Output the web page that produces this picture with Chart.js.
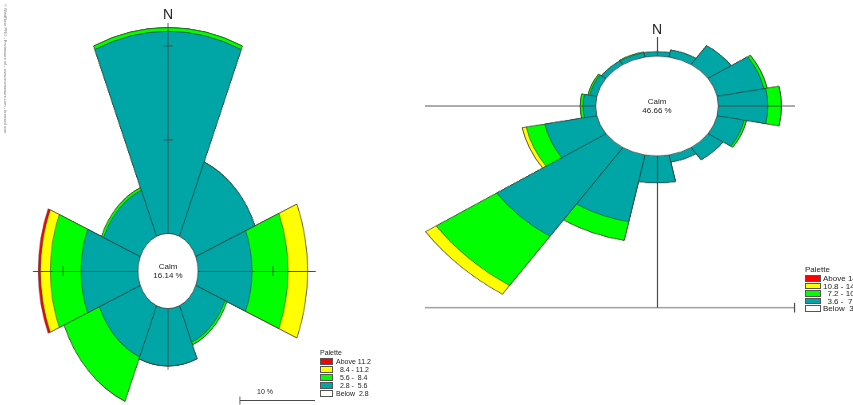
<!DOCTYPE html>
<html>
<head>
<meta charset="utf-8">
<script src="https://cdn.jsdelivr.net/npm/chart.js@4.4.1/dist/chart.umd.min.js"></script>
<style>
  body { margin: 0; width: 853px; height: 405px; overflow: hidden; background: #fff; position: relative;
         font-family: "Liberation Sans", Arial, sans-serif; color: #222; }
  canvas { position: absolute; }
  .txt { position: absolute; white-space: pre; }
  .north { font-size: 14px; line-height: 14px; transform: translateX(-50%); }
  .calm { font-size: 8px; line-height: 8.5px; text-align: center; transform: translate(-50%, -50%); }
  .legend { position: absolute; font-size: 7px; line-height: 7px; }
  .legend .row { position: absolute; left: 0; white-space: pre; }
  .legend .box { position: absolute; border: 1px solid #555; box-sizing: border-box; }
</style>
</head>
<body>
<canvas id="leftRose" width="564" height="564" style="left:-57px;top:-11px;width:450px;height:564px"></canvas>
<canvas id="rightRose" width="588" height="588" style="left:363px;top:-133px;width:588px;height:478px"></canvas>

<div class="txt north" style="left:168px;top:7px">N</div>
<div class="txt north" style="left:657px;top:22px">N</div>
<div class="txt calm" style="left:168px;top:271px">Calm<br>16.14 %</div>
<div class="txt calm" style="left:657px;top:106px">Calm<br>46.66 %</div>
<div class="txt" style="left:265px;top:388px;font-size:7px;transform:translateX(-50%)">10 %</div>
<div class="txt" style="left:8px;top:4px;font-size:4px;color:#777;transform-origin:0 0;transform:rotate(90deg)">© WindRose PRO - Enviroware srl - www.enviroware.com - licensed user</div>
<div id="leftLegend" class="legend" style="left:320px;top:349px"></div>
<div id="rightLegend" class="legend" style="left:805px;top:266px;font-size:8px"></div>

<script>
// left rose: 8 sectors, frequencies (%) per speed class
const leftDirs = ['N', 'NE', 'E', 'SE', 'S', 'SW', 'W', 'NW'];
const left28 = [21.5, 8.55, 7.2, 4.2, 6.1, 5.9, 7.6, 5.3];   // 2.8 - 5.6
const left56 = [0.4, 0, 4.8, 0.3, 0, 5.1, 4.1, 0.3];          // 5.6 - 8.4
const left84 = [0, 0, 2.6, 0, 0, 0, 1.3, 0];                  // 8.4 - 11.2
const left112 = [0, 0, 0, 0, 0, 0, 0.3, 0];                   // above 11.2
const leftClasses = ['Above 11.2', '  8.4 - 11.2', '  5.6 -  8.4', '  2.8 -  5.6', 'Below  2.8'];

// right rose: 16 sectors
const rightDirs = ['N', 'NNE', 'NE', 'ENE', 'E', 'ESE', 'SE', 'SSE', 'S', 'SSW', 'SW', 'WSW', 'W', 'WNW', 'NW', 'NNW'];
const right36 = [0.42, 0.70, 2.18, 3.73, 3.87, 2.15, 1.41, 0.70, 2.60, 6.55, 10.28, 4.15, 0.99, 0.56, 0.42, 0.42];
const right72 = [0, 0, 0, 0.25, 1.06, 0.18, 0, 0, 0, 1.83, 5.70, 1.48, 0.21, 0.14, 0, 0.07];
const right108 = [0, 0, 0, 0, 0, 0, 0, 0, 0, 0, 0.99, 0.32, 0, 0, 0, 0];
const right144 = [0, 0, 0, 0, 0, 0, 0, 0, 0, 0, 0, 0, 0, 0, 0, 0];
const rightClasses = ['Above 14.4', '10.8 - 14.4', '  7.2 - 10.8', '  3.6 -  7.2', 'Below  3.6'];

const bandColors = ['#00a5a5', '#00ff00', '#ffff00', '#ff0000'];
const legendColors = ['#ff0000', '#ffff00', '#00ff00', '#00a5a5', '#ffffff'];

// running totals so each band sits on top of the previous one
function stack(bands) {
  let run = bands[0].map(() => 0);
  return bands.map(b => (run = run.map((v, i) => +(v + b[i]).toFixed(2))));
}

function drawCalm(ctx, cx, cy, rad) {
  ctx.beginPath();
  ctx.arc(cx, cy, rad, 0, Math.PI * 2);
  ctx.fillStyle = '#fff';
  ctx.fill();
  ctx.strokeStyle = '#333';
  ctx.lineWidth = 0.8;
  ctx.stroke();
}

const leftDecor = {
  id: 'leftDecor',
  afterDatasetsDraw(chart) {
    const r = chart.scales.r, ctx = chart.ctx;
    const cx = r.xCenter, cy = r.yCenter;
    const d = v => r.getDistanceFromCenterForValue(v);
    ctx.save();
    ctx.strokeStyle = '#4a4a4a';
    ctx.lineWidth = 1;
    ctx.beginPath();
    ctx.moveTo(cx, cy - d(22.4)); ctx.lineTo(cx, cy + d(6.5));
    ctx.moveTo(cx - d(14), cy + 0.5); ctx.lineTo(cx + d(15.7), cy + 0.5);
    ctx.moveTo(cx - d(10), cy - 5); ctx.lineTo(cx - d(10), cy + 5);
    ctx.moveTo(cx + d(10), cy - 5); ctx.lineTo(cx + d(10), cy + 5);
    [10, 20].forEach(v => { ctx.moveTo(cx - 6, cy - d(v) + 0.5); ctx.lineTo(cx + 6, cy - d(v) + 0.5); });
    // 10 % scale bar
    const bx = cx + 90, by = cy + 129.5;
    ctx.moveTo(bx, by); ctx.lineTo(bx + d(10) - d(0), by);
    ctx.moveTo(bx, by - 4); ctx.lineTo(bx, by + 4);
    ctx.stroke();
    drawCalm(ctx, cx, cy, d(0));
    ctx.restore();
  }
};

const rightDecor = {
  id: 'rightDecor',
  afterDatasetsDraw(chart) {
    const r = chart.scales.r, ctx = chart.ctx;
    const cx = r.xCenter, cy = r.yCenter;
    const d = v => r.getDistanceFromCenterForValue(v);
    const x0 = cx - d(13.35), x1 = cx + d(6.0), yb = cy + d(14.6);
    ctx.save();
    ctx.strokeStyle = '#4a4a4a';
    ctx.lineWidth = 1.2;
    ctx.beginPath();
    ctx.moveTo(x0, cy); ctx.lineTo(x1, cy);
    ctx.moveTo(cx + 0.5, cy - d(1.84)); ctx.lineTo(cx + 0.5, yb);
    ctx.moveTo(x0, yb); ctx.lineTo(x1, yb);
    ctx.moveTo(x1 - 0.5, yb - 6); ctx.lineTo(x1 - 0.5, yb + 6);
    ctx.stroke();
    drawCalm(ctx, cx, cy, d(0));
    ctx.restore();
  }
};

function buildRose(id, dirs, bands, startAngle, min, max, decor) {
  const totals = stack(bands);
  new Chart(document.getElementById(id), {
    type: 'polarArea',
    data: {
      labels: dirs,
      datasets: totals.map((data, i) => ({
        data: data,
        backgroundColor: bandColors[i],
        borderColor: '#2b2b2b',
        borderWidth: 0.6,
      })),
    },
    options: {
      responsive: false,
      animation: false,
      devicePixelRatio: 1,
      layout: { padding: 0 },
      plugins: { legend: { display: false }, tooltip: { enabled: false } },
      scales: { r: { display: false, min: min, max: max, startAngle: startAngle } },
    },
    plugins: [decor],
  });
}

function buildLegend(id, labels, boxW, rowH, textX) {
  const el = document.getElementById(id);
  let html = '<div class="row" style="top:0">Palette</div>';
  labels.forEach((t, i) => {
    const y = 9 + i * rowH;
    html += `<div class="box" style="left:0;top:${y}px;width:${boxW}px;height:${rowH - 1}px;background:${legendColors[i]}"></div>`;
    html += `<div class="row" style="left:${textX}px;top:${y}px">${t}</div>`;
  });
  el.innerHTML = html;
}

buildRose('leftRose', leftDirs, [left28, left56, left84, left112], -22.5, -4, 26, leftDecor);
buildRose('rightRose', rightDirs, [right36, right72, right108, right144], -11.25, -4.8, 18.2, rightDecor);
buildLegend('leftLegend', leftClasses, 13, 8, 16);
buildLegend('rightLegend', rightClasses, 16, 7.5, 18);
</script>
</body>
</html>
